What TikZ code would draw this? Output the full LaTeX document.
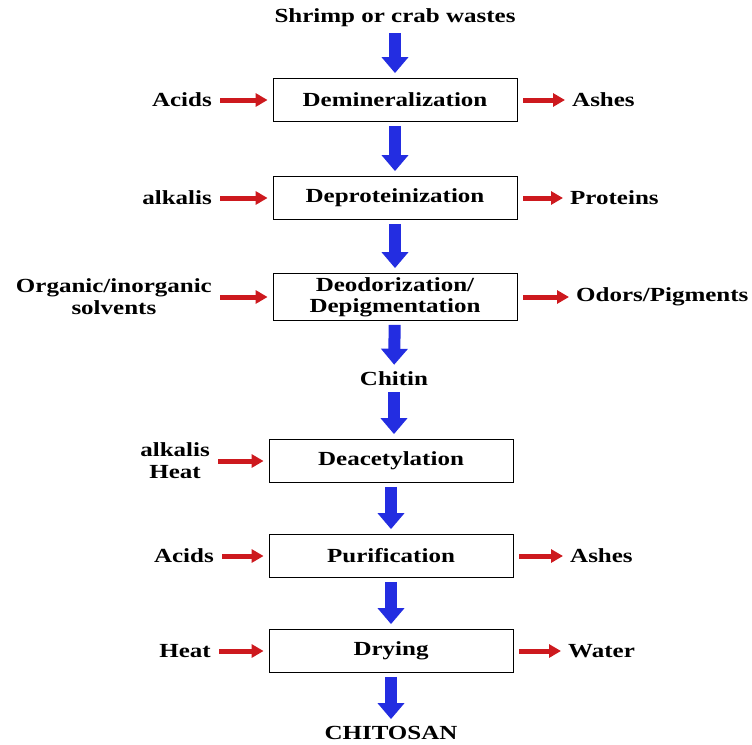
\documentclass[tikz,border=0pt]{standalone}
\usepackage{fontspec}
\setmainfont{Liberation Serif}[FakeStretch=1.25]
\usetikzlibrary{arrows.meta}
\definecolor{flowblue}{RGB}{35, 45, 225}
\definecolor{feedred}{RGB}{205, 25, 30}

\begin{document}
\begin{tikzpicture}[
  x=1pt, y=-1pt,
  procbox/.style={draw=black, line width=0.8pt, minimum width=244pt, minimum height=43pt, align=center, inner sep=2pt, font=\fontsize{20}{21}\selectfont\bfseries},
  sidelabel/.style={align=center, inner sep=2pt, font=\fontsize{20}{22}\selectfont\bfseries},
  flowarrow/.style={draw=flowblue, line width=12pt, -{Triangle[width=26pt, length=16pt]}, shorten <=4pt, shorten >=5pt},
  feedarrow/.style={draw=feedred, line width=5pt, -{Triangle[width=13pt, length=12pt]}, shorten <=6pt, shorten >=5pt}
]
  \useasboundingbox (0, 0) rectangle (752, 744);

  % main chain
  \node[sidelabel] (waste) at (395, 18) {Shrimp or crab wastes};
  \node[procbox] (demin) at (395, 100) {Demineralization};
  \node[procbox] (deprot) at (395, 198) {Deproteinization};
  \node[procbox, minimum height=47pt] (deodor) at (395, 297) {Deodorization/\\Depigmentation};
  \node[sidelabel] (chitin) at (394, 379) {Chitin};
  \node[procbox] (deacet) at (391, 461) {Deacetylation};
  \node[procbox] (purif) at (391, 556) {Purification};
  \node[procbox] (dry) at (391, 651) {Drying};
  \node[sidelabel] (chitosan) at (391, 733) {CHITOSAN};

  % inputs
  \node[sidelabel, anchor=east] (acidsA) at (214, 100) {Acids};
  \node[sidelabel, anchor=east] (alkA) at (214, 198) {alkalis};
  \node[sidelabel, anchor=east] (solv) at (214, 297) {Organic/inorganic\\solvents};
  \node[sidelabel, anchor=east] (alkB) at (212, 461) {alkalis\\Heat};
  \node[sidelabel, anchor=east] (acidsB) at (216, 556) {Acids};
  \node[sidelabel, anchor=east] (heat) at (213, 651) {Heat};

  % outputs
  \node[sidelabel, anchor=west] (ashesA) at (570, 100) {Ashes};
  \node[sidelabel, anchor=west] (prot) at (568, 198) {Proteins};
  \node[sidelabel, anchor=west] (odor) at (574, 297) {Odors/Pigments};
  \node[sidelabel, anchor=west] (ashesB) at (568, 556) {Ashes};
  \node[sidelabel, anchor=west] (water) at (566, 651) {Water};

  % blue flow
  \draw[flowarrow] (waste) -- (demin);
  \draw[flowarrow] (demin) -- (deprot);
  \draw[flowarrow] (deprot) -- (deodor);
  \draw[flowarrow] (deodor) -- (chitin);
  \draw[flowarrow] (chitin.south) -- (deacet.north -| chitin.south);
  \draw[flowarrow] (deacet) -- (purif);
  \draw[flowarrow] (purif) -- (dry);
  \draw[flowarrow] (dry) -- (chitosan);

  % red side arrows
  \draw[feedarrow] (acidsA) -- (demin);
  \draw[feedarrow] (alkA) -- (deprot);
  \draw[feedarrow] (solv) -- (deodor);
  \draw[feedarrow] (alkB) -- (deacet);
  \draw[feedarrow] (acidsB) -- (purif);
  \draw[feedarrow] (heat) -- (dry);
  \draw[feedarrow] (demin) -- (ashesA);
  \draw[feedarrow] (deprot) -- (prot);
  \draw[feedarrow] (deodor) -- (odor);
  \draw[feedarrow] (purif) -- (ashesB);
  \draw[feedarrow] (dry) -- (water);
\end{tikzpicture}
\end{document}
